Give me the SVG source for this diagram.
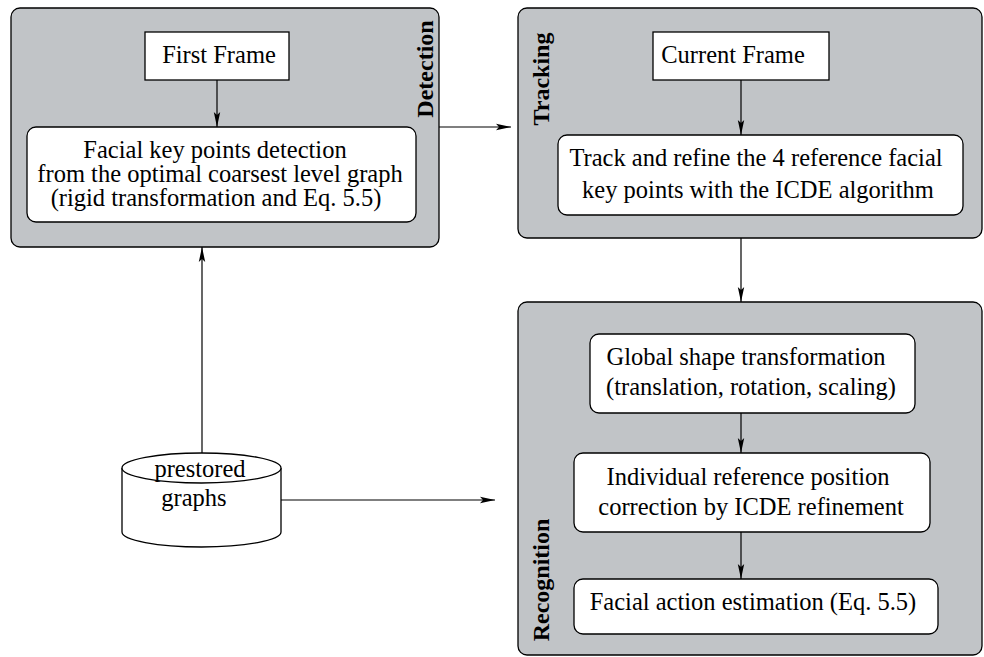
<svg xmlns="http://www.w3.org/2000/svg" width="984" height="657" viewBox="0 0 984 657">
<style>
.panel{fill:#c1c4c7;stroke:#000;stroke-width:1.3}
.box{fill:#fff;stroke:#000;stroke-width:1.3}
.t{font-family:'Liberation Serif',serif;font-size:24.5px;fill:#000;text-anchor:middle}
.lbl{font-family:'Liberation Serif',serif;font-size:24px;font-weight:bold;fill:#000;text-anchor:middle}
.c{fill:none;stroke:#000;stroke-width:1.2}
</style>
<defs>
<marker id="ah" markerWidth="16" markerHeight="8" refX="15" refY="4" orient="auto" markerUnits="userSpaceOnUse">
<path d="M0,0.8 L15,4 L0,7.2 L3,4 Z" fill="#000"/>
</marker>
</defs>
<g id="detection">
<rect class="panel" x="11" y="8" width="428" height="239" rx="9"/>
<text class="lbl" transform="translate(433,69) rotate(-90)">Detection</text>
</g>
<g id="tracking">
<rect class="panel" x="518" y="8" width="464" height="230" rx="9"/>
<text class="lbl" transform="translate(549,79) rotate(-90)">Tracking</text>
</g>
<g id="recognition">
<rect class="panel" x="518" y="302" width="464" height="353" rx="9"/>
<text class="lbl" transform="translate(549,580) rotate(-90)">Recognition</text>
</g>
<g id="first-frame">
<rect class="box" x="145" y="32" width="144" height="48"/>
<text class="t" x="219" y="63">First Frame</text>
</g>
<g id="key-points">
<rect class="box" x="27" y="127" width="389" height="95" rx="9"/>
<text class="t" x="215" y="158">Facial key points detection</text>
<text class="t" x="220" y="182">from the optimal coarsest level graph</text>
<text class="t" x="216" y="206">(rigid transformation and Eq. 5.5)</text>
</g>
<g id="current-frame">
<rect class="box" x="653" y="32" width="176" height="48"/>
<text class="t" x="733" y="63">Current Frame</text>
</g>
<g id="track-refine">
<rect class="box" x="558" y="135" width="405" height="80" rx="9"/>
<text class="t" x="756" y="166">Track and refine the 4 reference facial</text>
<text class="t" x="758" y="198">key points with the ICDE algorithm</text>
</g>
<g id="global-shape">
<rect class="box" x="590" y="334" width="325" height="79" rx="9"/>
<text class="t" x="746" y="365">Global shape transformation</text>
<text class="t" x="751" y="395">(translation, rotation, scaling)</text>
</g>
<g id="individual">
<rect class="box" x="574" y="453" width="356" height="79" rx="9"/>
<text class="t" x="748" y="485">Individual reference position</text>
<text class="t" x="751" y="515">correction by ICDE refinement</text>
</g>
<g id="facial-action">
<rect class="box" x="574" y="579" width="364" height="55" rx="9"/>
<text class="t" x="753" y="610">Facial action estimation (Eq. 5.5)</text>
</g>
<g id="prestored">
<path class="box" d="M122,468 L122,532 A79.5,15 0 0 0 281,532 L281,468"/>
<ellipse class="box" cx="201.5" cy="468" rx="79.5" ry="15"/>
<text class="t" x="200" y="477">prestored</text>
<text class="t" x="194" y="506">graphs</text>
</g>
<g id="connectors">
<line class="c" x1="217" y1="80" x2="217" y2="127" marker-end="url(#ah)"/>
<line class="c" x1="439" y1="127" x2="511" y2="127" marker-end="url(#ah)"/>
<line class="c" x1="741" y1="80" x2="741" y2="135" marker-end="url(#ah)"/>
<line class="c" x1="741" y1="238" x2="741" y2="302" marker-end="url(#ah)"/>
<line class="c" x1="741" y1="413" x2="741" y2="453" marker-end="url(#ah)"/>
<line class="c" x1="741" y1="532" x2="741" y2="579" marker-end="url(#ah)"/>
<line class="c" x1="202" y1="453" x2="202" y2="247" marker-end="url(#ah)"/>
<line class="c" x1="281" y1="500" x2="495" y2="500" marker-end="url(#ah)"/>
</g>
</svg>
